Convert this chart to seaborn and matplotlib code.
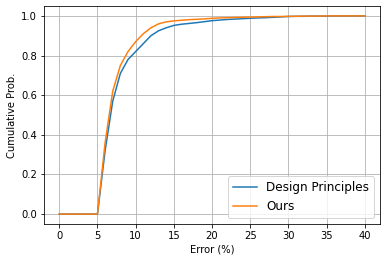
import matplotlib
matplotlib.use("Agg")
import matplotlib.pyplot as plt
import numpy as np
import pandas as pd
import seaborn as sns

error = list(range(0, 41))
design_principles = [0, 0, 0, 0, 0, 0, 0.32, 0.57, 0.71, 0.78, 0.82, 0.86, 0.90, 0.925, 0.94,
                     0.952, 0.958, 0.962, 0.966, 0.971, 0.976, 0.979, 0.982, 0.984, 0.986, 0.988,
                     0.99, 0.991, 0.993, 0.995, 0.997, 0.998, 0.998, 0.999, 0.999, 0.999,
                     1.0, 1.0, 1.0, 1.0, 1.0]
ours = [0, 0, 0, 0, 0, 0, 0.36, 0.62, 0.75, 0.82, 0.87, 0.91, 0.94, 0.96, 0.97,
        0.975, 0.978, 0.981, 0.983, 0.985, 0.988, 0.99, 0.991, 0.992, 0.993, 0.994,
        0.995, 0.996, 0.997, 0.997, 0.998, 0.998, 0.999, 0.999, 0.999, 1.0,
        1.0, 1.0, 1.0, 1.0, 1.0]
labels = ["Design Principles", "Ours"]

df = pd.DataFrame({
    "Error (%)": error * 2,
    "Cumulative Prob.": design_principles + ours,
    "method": [labels[0]] * len(error) + [labels[1]] * len(error),
})

fig = plt.figure(figsize=(386 / 72, 262 / 72), dpi=72)
ax = fig.add_axes([44 / 386, 1 - 224 / 262, 336 / 386, 218 / 262])
sns.lineplot(data=df, x="Error (%)", y="Cumulative Prob.", hue="method",
             palette=["#1f77b4", "#ff7f0e"], linewidth=1.5, ax=ax)
ax.grid(True)
ax.set_xticks(np.arange(0, 41, 5))
ax.set_yticks(np.arange(0, 1.01, 0.2))
ax.legend(loc="lower right", fontsize=12)
fig.savefig("out.png", dpi=72)
